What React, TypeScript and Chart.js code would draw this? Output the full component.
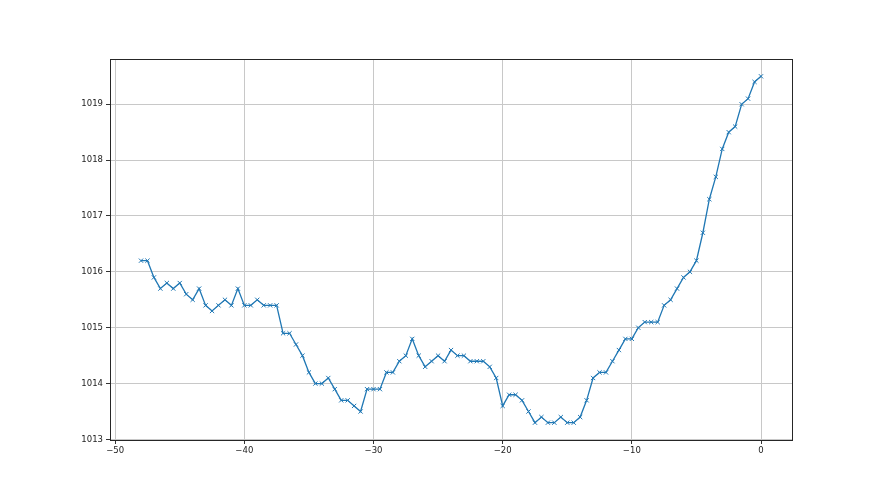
import React, { useEffect, useRef } from "react";
import { Chart, registerables } from "chart.js";

Chart.register(...registerables);

const HOURS = [
  -48, -47.5, -47, -46.5, -46, -45.5, -45, -44.5, -44, -43.5, -43, -42.5, -42, -41.5, -41, -40.5,
  -40, -39.5, -39, -38.5, -38, -37.5, -37, -36.5, -36, -35.5, -35, -34.5, -34, -33.5, -33, -32.5,
  -32, -31.5, -31, -30.5, -30, -29.5, -29, -28.5, -28, -27.5, -27, -26.5, -26, -25.5, -25, -24.5,
  -24, -23.5, -23, -22.5, -22, -21.5, -21, -20.5, -20, -19.5, -19, -18.5, -18, -17.5, -17, -16.5,
  -16, -15.5, -15, -14.5, -14, -13.5, -13, -12.5, -12, -11.5, -11, -10.5, -10, -9.5, -9, -8.5,
  -8, -7.5, -7, -6.5, -6, -5.5, -5, -4.5, -4, -3.5, -3, -2.5, -2, -1.5, -1, -0.5, 0,
];

const PRESSURE = [
  1016.2, 1016.2, 1015.9, 1015.7, 1015.8, 1015.7, 1015.8, 1015.6, 1015.5, 1015.7, 1015.4, 1015.3, 1015.4, 1015.5, 1015.4, 1015.7,
  1015.4, 1015.4, 1015.5, 1015.4, 1015.4, 1015.4, 1014.9, 1014.9, 1014.7, 1014.5, 1014.2, 1014.0, 1014.0, 1014.1, 1013.9, 1013.7,
  1013.7, 1013.6, 1013.5, 1013.9, 1013.9, 1013.9, 1014.2, 1014.2, 1014.4, 1014.5, 1014.8, 1014.5, 1014.3, 1014.4, 1014.5, 1014.4,
  1014.6, 1014.5, 1014.5, 1014.4, 1014.4, 1014.4, 1014.3, 1014.1, 1013.6, 1013.8, 1013.8, 1013.7, 1013.5, 1013.3, 1013.4, 1013.3,
  1013.3, 1013.4, 1013.3, 1013.3, 1013.4, 1013.7, 1014.1, 1014.2, 1014.2, 1014.4, 1014.6, 1014.8, 1014.8, 1015.0, 1015.1, 1015.1,
  1015.1, 1015.4, 1015.5, 1015.7, 1015.9, 1016.0, 1016.2, 1016.7, 1017.3, 1017.7, 1018.2, 1018.5, 1018.6, 1019.0, 1019.1, 1019.4, 1019.5,
];

const X_TICKS = [-50, -40, -30, -20, -10, 0];
const Y_TICKS = [1013, 1014, 1015, 1016, 1017, 1018, 1019];

const FONT = { family: "DejaVu Sans", size: 8.5 };

const fmt = (v: any) => String(v).replace("-", "\u2212");

const frame = {
  id: "frame",
  afterDraw(chart: any) {
    const { ctx, chartArea: a } = chart;
    ctx.save();
    ctx.strokeStyle = "#262626";
    ctx.lineWidth = 1;
    ctx.strokeRect(Math.round(a.left) + 0.5, Math.round(a.top) + 0.5, Math.round(a.right - a.left), Math.round(a.bottom - a.top));
    ctx.restore();
  },
};

export default function App() {
  const ref = useRef<HTMLCanvasElement>(null);
  useEffect(() => {
    document.body.style.margin = "0";
    const chart = new Chart(ref.current!, {
      type: "line",
      data: {
        datasets: [
          {
            data: HOURS.map((h, i) => ({ x: h, y: PRESSURE[i] })),
            borderColor: "#1f77b4",
            backgroundColor: "#1f77b4",
            borderWidth: 1.3,
            pointStyle: "crossRot",
            pointRadius: 3,
            pointBorderWidth: 1,
            pointBorderColor: "#1f77b4",
            tension: 0,
          },
        ],
      },
      options: {
        animation: false,
        responsive: false,
        layout: { padding: { top: 59, right: 88, left: 0, bottom: 0 } },
        plugins: { legend: { display: false }, tooltip: { enabled: false } },
        scales: {
          x: {
            type: "linear",
            min: -50.4,
            max: 2.4,
            afterBuildTicks: (s: any) => {
              s.ticks = X_TICKS.map((v) => ({ value: v }));
            },
            afterFit: (s: any) => {
              s.height = 55;
            },
            grid: { color: "#c8c8c8", tickColor: "#333", tickLength: 4, lineWidth: 1 },
            border: { display: false },
            ticks: { color: "#222", font: FONT, padding: 2, maxRotation: 0, autoSkip: false, callback: (v: any) => fmt(v) },
          },
          y: {
            type: "linear",
            min: 1012.99,
            max: 1019.81,
            afterBuildTicks: (s: any) => {
              s.ticks = Y_TICKS.map((v) => ({ value: v }));
            },
            afterFit: (s: any) => {
              s.width = 110;
            },
            grid: { color: "#c8c8c8", tickColor: "#333", tickLength: 4, lineWidth: 1 },
            border: { display: false },
            ticks: { color: "#222", font: FONT, padding: 3, autoSkip: false, callback: (v: any) => fmt(v) },
          },
        },
      },
      plugins: [frame],
    });
    return () => chart.destroy();
  }, []);
  return (
    <div style={{ width: 880, height: 495, background: "#fff" }}>
      <canvas ref={ref} width={880} height={495} />
    </div>
  );
}
